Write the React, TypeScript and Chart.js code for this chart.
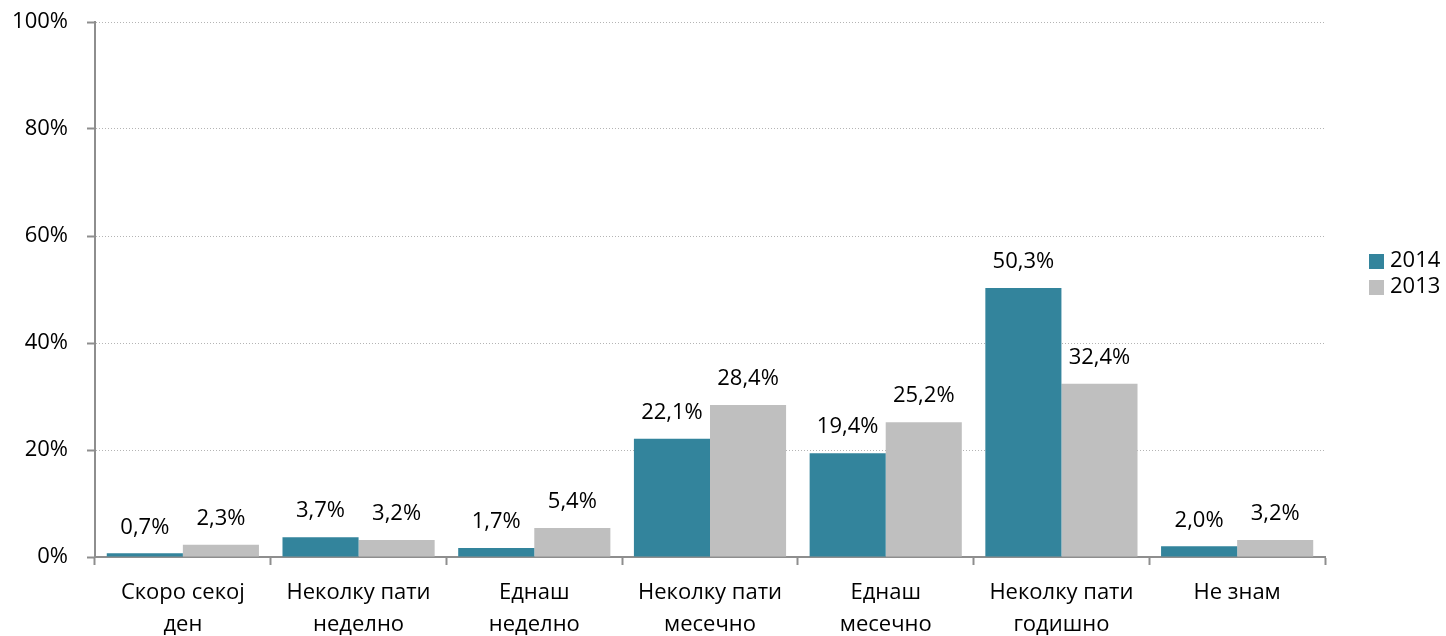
import React, { useEffect, useRef } from "react";
import { Chart, registerables } from "chart.js";

Chart.register(...registerables);

const categories: (string | string[])[] = [
  ["Скоро секој", "ден"],
  ["Неколку пати", "неделно"],
  ["Еднаш", "неделно"],
  ["Неколку пати", "месечно"],
  ["Еднаш", "месечно"],
  ["Неколку пати", "годишно"],
  "Не знам",
];
const series2014 = [0.7, 3.7, 1.7, 22.1, 19.4, 50.3, 2.0];
const series2013 = [2.3, 3.2, 5.4, 28.4, 25.2, 32.4, 3.2];
const seriesNames = ["2014", "2013"];
const yTicks = [0, 20, 40, 60, 80, 100];

const COLORS = ["#33849C", "#BFBFBF"];
const AXIS = "#8E8E8E";
const FONT = "'Open Sans', 'Noto Sans', sans-serif";
const FS = 22;

const fmt = (v: number) => v.toFixed(1).replace(".", ",") + "%";

export default function App() {
  const ref = useRef<HTMLCanvasElement | null>(null);
  useEffect(() => {
    document.body.style.margin = "0";
    const canvas = ref.current!;
    const labelsPlugin = {
      id: "valueLabels",
      afterDatasetsDraw(chart: any) {
        const ctx = chart.ctx;
        ctx.save();
        ctx.font = `${FS}px ${FONT}`;
        ctx.fillStyle = "#000";
        ctx.textAlign = "center";
        ctx.textBaseline = "middle";
        chart.data.datasets.forEach((ds: any, i: number) => {
          const meta = chart.getDatasetMeta(i);
          meta.data.forEach((bar: any, j: number) => {
            ctx.fillText(fmt(ds.data[j]), bar.x, bar.y - 26);
          });
        });
        ctx.restore();
      },
    };
    const legendPlugin = {
      id: "customLegend",
      afterDraw(chart: any) {
        const ctx = chart.ctx;
        ctx.save();
        ctx.font = `${FS}px ${FONT}`;
        ctx.textAlign = "left";
        ctx.textBaseline = "middle";
        const ys = [261, 287];
        seriesNames.forEach((n, i) => {
          ctx.fillStyle = COLORS[i];
          ctx.fillRect(1369, ys[i] - 7, 15, 15);
          ctx.fillStyle = "#000";
          ctx.fillText(n, 1390, ys[i]);
        });
        ctx.restore();
      },
    };
    const chart = new Chart(canvas, {
      type: "bar",
      data: {
        labels: categories,
        datasets: [
          { label: seriesNames[0], data: series2014, backgroundColor: COLORS[0], categoryPercentage: 0.866, barPercentage: 1 },
          { label: seriesNames[1], data: series2013, backgroundColor: COLORS[1], categoryPercentage: 0.866, barPercentage: 1 },
        ],
      },
      options: {
        animation: false,
        responsive: false,
        maintainAspectRatio: false,
        layout: { padding: { top: 22, right: 121, left: 0, bottom: 0 } },
        plugins: { legend: { display: false }, tooltip: { enabled: false } },
        scales: {
          x: {
            grid: {
              offset: true,
              drawOnChartArea: false,
              drawTicks: true,
              tickLength: 8,
              tickColor: AXIS,
              tickWidth: 2,
            },
            border: { color: AXIS, width: 2 },
            ticks: {
              font: { family: FONT, size: FS, lineHeight: 1.45 },
              color: "#000",
              padding: 12,
              maxRotation: 0,
              autoSkip: false,
            },
            afterFit(scale: any) {
              scale.height = 79;
              scale.paddingLeft = 0;
              scale.paddingRight = 0;
            },
          },
          y: {
            min: 0,
            max: 100,
            afterBuildTicks(scale: any) {
              scale.ticks = yTicks.map((v) => ({ value: v }));
            },
            grid: {
              color: "#B4B4B4",
              lineWidth: 1,
              tickLength: 8,
              tickColor: AXIS,
              tickWidth: 2,
              tickBorderDash: [],
            },
            border: { color: AXIS, width: 2, dash: [1, 2] },
            ticks: {
              font: { family: FONT, size: FS },
              color: "#000",
              padding: 19,
              callback: (v: any) => v + "%",
            },
            afterFit(scale: any) {
              scale.width = 95;
              scale.paddingTop = 0;
              scale.paddingBottom = 0;
            },
          },
        },
      },
      plugins: [labelsPlugin, legendPlugin],
    });
    return () => chart.destroy();
  }, []);
  return (
    <div style={{ position: "absolute", left: 0, top: 0, width: 1446, height: 636 }}>
      <canvas ref={ref} width={1446} height={636} style={{ width: 1446, height: 636 }} />
    </div>
  );
}
